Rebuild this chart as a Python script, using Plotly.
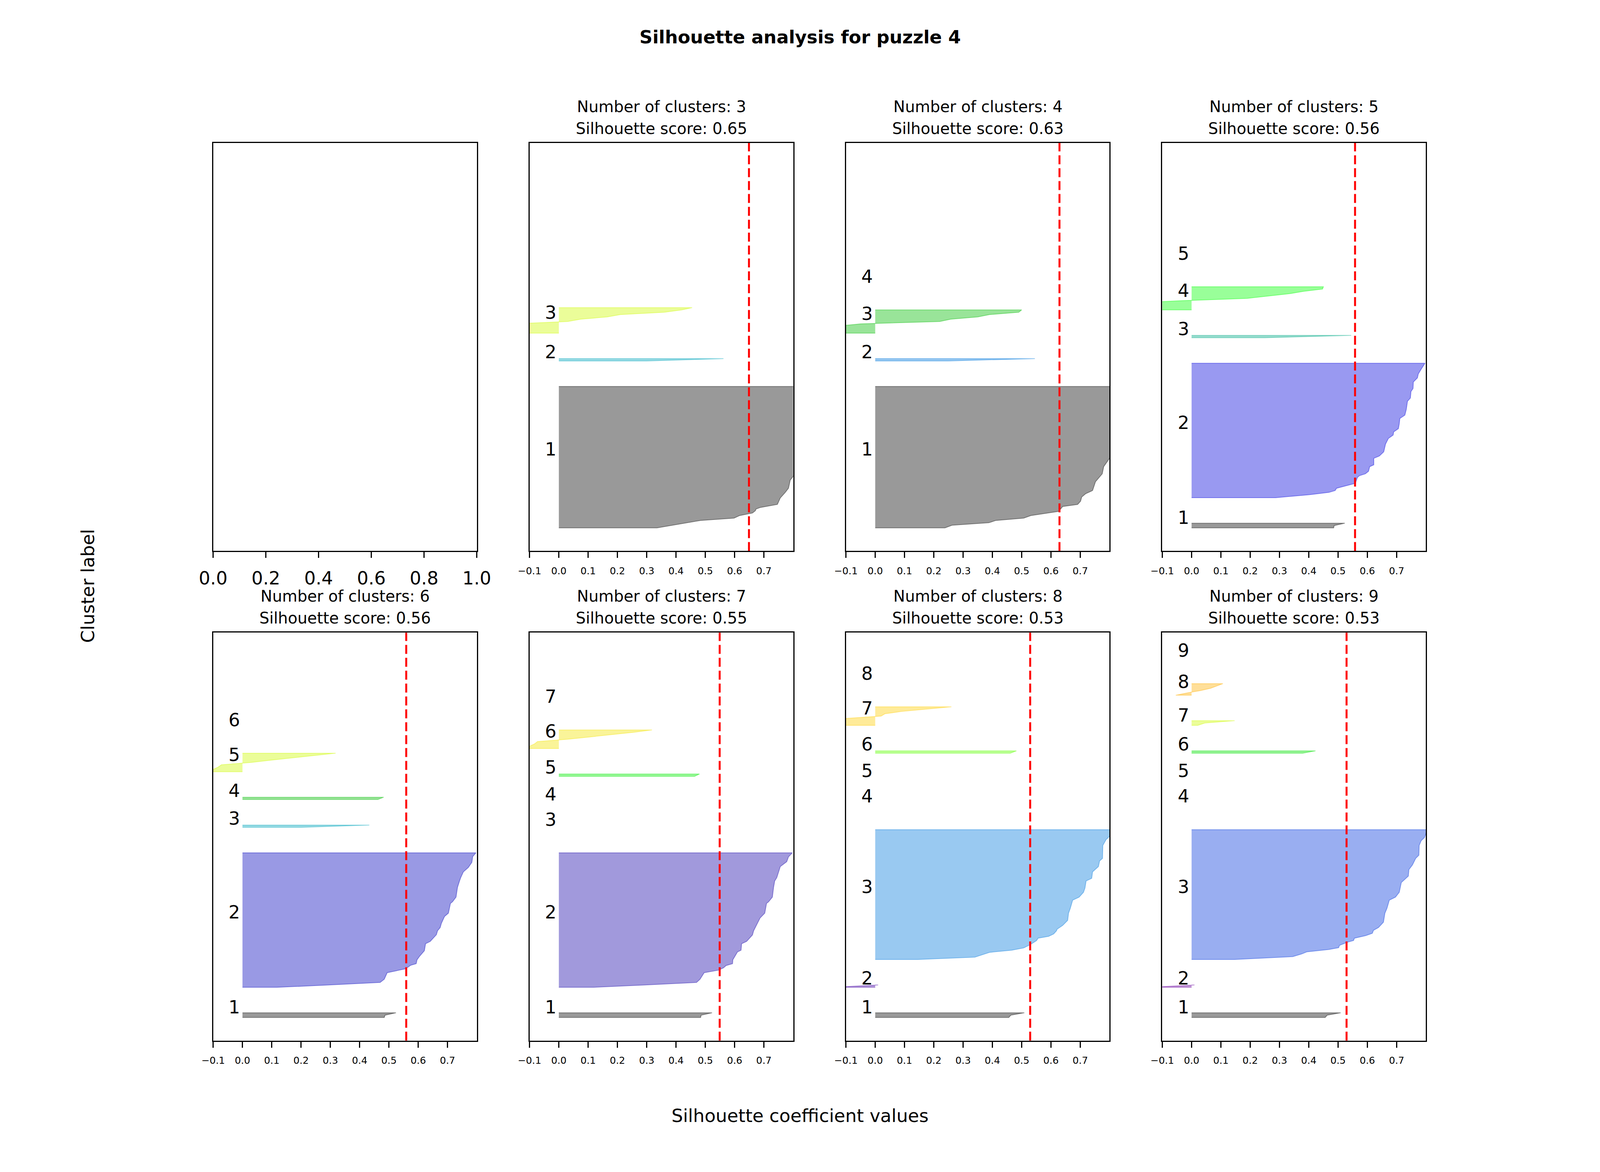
import numpy as np
import plotly.graph_objects as go

# Silhouette plots for KMeans with k = 3..9 (first panel, k = 2, left empty)
Y_MAX = 176          # 76 samples + (9 + 1) * 10
GAP = 10

K_VALUES = [3, 4, 5, 6, 7, 8, 9]
SCORES = [0.649, 0.629, 0.558, 0.559, 0.549, 0.529, 0.529]

# cluster sizes and sorted silhouette profiles as (offset inside cluster, value)
K3_SIZES = [62, 2, 12]
K3_PROFILES = [
    [(0, 0.335), (3.2, 0.484), (4.2, 0.598), (5.3, 0.617), (6.4, 0.661), (7.4, 0.671), (8.1, 0.673),
     (8.8, 0.688), (10.1, 0.746), (12.9, 0.756), (15.3, 0.773), (17.1, 0.784), (20.6, 0.79),
     (22.2, 0.80), (30, 0.83), (45, 0.87), (61, 0.9)],
    [(0, 0.30), (1, 0.562)],
    [(0, -0.5), (1, -0.4), (2, -0.3), (3, -0.25), (4, -0.15), (5, 0.03), (6, 0.075), (7, 0.165),
     (8, 0.21), (9, 0.36), (10, 0.42), (11, 0.455)],
]

K4_SIZES = [62, 2, 11, 1]
K4_PROFILES = [
    [(0, 0.238), (1.1, 0.262), (2.2, 0.388), (3.2, 0.412), (4.2, 0.507), (5.3, 0.531), (7.1, 0.626),
     (9.2, 0.640), (10.1, 0.691), (11.5, 0.701), (13.3, 0.705), (14.7, 0.718), (16.1, 0.742),
     (19.9, 0.752), (23.3, 0.775), (26.4, 0.780), (30, 0.8), (45, 0.84), (61, 0.88)],
    [(0, 0.25), (1, 0.545)],
    [(0, -0.4), (1, -0.3), (2, -0.2), (3, -0.13), (4, -0.05), (5, 0.22), (6, 0.258), (7, 0.35),
     (8, 0.39), (9, 0.49), (10, 0.50)],
    [(0, 0.0)],
]

K5_SIZES = [3, 59, 2, 11, 1]
K5_PROFILES = [
    [(0, 0.485), (1, 0.487), (2, 0.523)],
    [(0, 0.287), (1.3, 0.403), (2.3, 0.469), (3.1, 0.490), (4.1, 0.495), (6.2, 0.559), (8.7, 0.566),
     (9.5, 0.573), (10.3, 0.593), (11.4, 0.604), (13.4, 0.608), (14.2, 0.622), (17, 0.622),
     (18, 0.641), (19.8, 0.656), (23.1, 0.662), (25.6, 0.672), (27, 0.688), (28.4, 0.690),
     (29.8, 0.706), (31.9, 0.709), (34.2, 0.711), (35.6, 0.728), (38.1, 0.733), (41.6, 0.737),
     (43, 0.747), (45.8, 0.749), (47.1, 0.756), (49.9, 0.757), (51.7, 0.771), (53.4, 0.774),
     (55.5, 0.784), (58, 0.797)],
    [(0, 0.25), (1, 0.545)],
    [(0, -0.6), (1, -0.45), (2, -0.35), (3, -0.2), (4, -0.03), (5, 0.19), (6, 0.26), (7, 0.334),
     (8, 0.382), (9, 0.447), (10, 0.45)],
    [(0, 0.0)],
]

K6_SIZES = [3, 59, 2, 2, 9, 1]
K6_PROFILES = [
    [(0, 0.484), (1, 0.487), (2, 0.524)],
    [(0, 0.117), (1, 0.295), (2.1, 0.470), (3.5, 0.484), (6.3, 0.494), (8, 0.557), (9.5, 0.574),
     (10.2, 0.593), (11.9, 0.596), (13.3, 0.604), (15.8, 0.621), (18.8, 0.625), (19.8, 0.641),
     (22.7, 0.662), (24.4, 0.666), (25.8, 0.675), (27.6, 0.679), (30.6, 0.690), (32, 0.703),
     (36.2, 0.710), (36.9, 0.717), (38.9, 0.729), (43.1, 0.734), (45.9, 0.741), (47.3, 0.745),
     (49.8, 0.754), (51.7, 0.771), (53.9, 0.783), (56.4, 0.786), (58, 0.797)],
    [(0, 0.20), (1, 0.433)],
    [(0, 0.462), (1, 0.482)],
    [(0, -0.15), (1, -0.1), (2, -0.083), (3, -0.072), (4, 0.028), (5, 0.098), (6, 0.169),
     (7, 0.239), (8, 0.318)],
    [(0, 0.0)],
]

K7_SIZES = [3, 59, 1, 1, 2, 9, 1]
K7_PROFILES = [
    [(0, 0.484), (1, 0.486), (2, 0.523)],
    [(0, 0.119), (1, 0.295), (2.1, 0.470), (3.5, 0.482), (6.3, 0.496), (7.4, 0.545), (8.4, 0.562),
     (9.4, 0.571), (10.2, 0.593), (11.9, 0.594), (13.7, 0.603), (15.3, 0.610), (16, 0.622),
     (18.8, 0.624), (19.8, 0.641), (22.6, 0.661), (24.4, 0.665), (26.9, 0.675), (29.9, 0.687),
     (32, 0.703), (36.2, 0.709), (36.9, 0.716), (38.9, 0.729), (43.1, 0.733), (45.9, 0.737),
     (47.3, 0.744), (49.8, 0.750), (52.1, 0.756), (54.2, 0.778), (56.3, 0.784), (58, 0.797)],
    [(0, 0.0)],
    [(0, 0.0)],
    [(0, 0.463), (1, 0.48)],
    [(0, -0.15), (1, -0.1), (2, -0.083), (3, -0.073), (4, 0.03), (5, 0.105), (6, 0.18),
     (7, 0.255), (8, 0.318)],
    [(0, 0.0)],
]

K8_SIZES = [3, 2, 57, 1, 1, 2, 9, 1]
K8_PROFILES = [
    [(0, 0.456), (1, 0.463), (2, 0.509)],
    [(0, -0.15), (1, 0.01)],
    [(0, 0.146), (1, 0.34), (2.4, 0.376), (3.1, 0.391), (4, 0.466), (5, 0.507), (6.4, 0.529),
     (8.2, 0.551), (9.2, 0.556), (10, 0.592), (11, 0.609), (12.4, 0.619), (13.1, 0.621),
     (14.7, 0.640), (16.9, 0.657), (20, 0.660), (22.1, 0.666), (25.6, 0.674), (26.9, 0.696),
     (29, 0.711), (30.8, 0.716), (33.9, 0.720), (35, 0.739), (37.8, 0.742), (40.1, 0.762),
     (42.5, 0.766), (43.6, 0.776), (49.2, 0.777), (51.7, 0.788), (52.9, 0.798), (56, 0.82)],
    [(0, 0.0)],
    [(0, 0.0)],
    [(0, 0.461), (1, 0.482)],
    [(0, -0.3), (1, -0.2), (2, -0.15), (3, -0.1), (4, 0.02), (5, 0.033), (6, 0.09), (7, 0.173),
     (8, 0.26)],
    [(0, 0.0)],
]

K9_SIZES = [3, 2, 57, 1, 1, 2, 3, 6, 1]
K9_PROFILES = [
    [(0, 0.456), (1, 0.463), (2, 0.509)],
    [(0, -0.15), (1, 0.01)],
    [(0, 0.147), (1.25, 0.345), (2.4, 0.376), (3.3, 0.393), (4.3, 0.468), (5.1, 0.502), (6.1, 0.505),
     (7.5, 0.533), (8.2, 0.553), (9.2, 0.556), (10.3, 0.594), (11.3, 0.617), (12.6, 0.621),
     (13.8, 0.638), (16.1, 0.655), (20, 0.660), (22.1, 0.667), (25.6, 0.675), (26.9, 0.696),
     (29, 0.709), (33.2, 0.716), (36, 0.740), (38.8, 0.742), (40.8, 0.754), (43.6, 0.765),
     (45, 0.776), (49.2, 0.777), (51.3, 0.784), (52.6, 0.795), (56, 0.805)],
    [(0, 0.0)],
    [(0, 0.0)],
    [(0, 0.379), (1, 0.423)],
    [(0, 0.021), (1, 0.045), (2, 0.147)],
    [(0, -0.054), (1, -0.015), (2, 0.03), (3, 0.065), (4, 0.086), (5, 0.107)],
    [(0, 0.0)],
]

ALL_SIZES = [K3_SIZES, K4_SIZES, K5_SIZES, K6_SIZES, K7_SIZES, K8_SIZES, K9_SIZES]
ALL_PROFILES = [K3_PROFILES, K4_PROFILES, K5_PROFILES, K6_PROFILES, K7_PROFILES, K8_PROFILES, K9_PROFILES]

XTICKS = [-0.1, 0.0, 0.1, 0.2, 0.3, 0.4, 0.5, 0.6, 0.7]
XTICK_TEXT = ["\u22120.1", "0.0", "0.1", "0.2", "0.3", "0.4", "0.5", "0.6", "0.7"]
EMPTY_TICKS = [0.0, 0.2, 0.4, 0.6, 0.8, 1.0]
EMPTY_TICK_TEXT = ["0.0", "0.2", "0.4", "0.6", "0.8", "1.0"]

# matplotlib nipy_spectral colormap stops
NS_POS = np.linspace(0, 1, 21)
NS_R = [0, .4667, .5333, 0, 0, 0, 0, 0, 0, 0, 0, 0, 0, .7333, .9333, 1, 1, 1, .8667, .8, .8]
NS_G = [0, 0, 0, 0, 0, .4667, .6, .6667, .6667, .6, .7333, .8667, 1, 1, .9333, .8, .6, 0, 0, 0, .8]
NS_B = [0, .5333, .6, .6667, .8667, .8667, .8667, .6667, .5333, 0, 0, 0, 0, 0, 0, 0, 0, 0, 0, 0, .8]


def nipy_spectral(t, alpha):
    r, g, b = (int(round(255 * np.interp(t, NS_POS, ch))) for ch in (NS_R, NS_G, NS_B))
    return f"rgba({r},{g},{b},{alpha})"


# the browser page is 4096 px wide, so the 6000x3000 layout is drawn at that width
FONT = "DejaVu Sans"
W, H = 4080, 2984
FS = 0.8                      # font scale against the 6000x3000 original
SY = H / 3000
LEFT, RIGHT, BOTTOM, TOP = 0.125, 0.9, 0.11, 0.88
pw = (RIGHT - LEFT) / (4 + 3 * 0.2)
ph = (TOP - BOTTOM) / (2 + 0.2)


def base_shift(size):
    # distance from an annotation's box bottom to its text baseline
    return 0.236 * size + 1


LABEL_SIZE = 58 * FS
TITLE_SIZE = 50 * FS
TICK_SIZE = 31 * FS

fig = go.Figure()
annotations = []
layout_axes = {}

for p in range(8):
    row, col = p // 4, p % 4
    x0 = LEFT + col * pw * 1.2
    y1 = TOP - row * ph * 1.2
    xdom, ydom = [x0, x0 + pw], [y1 - ph, y1]
    n = p + 1
    xa, ya = ("xaxis" if n == 1 else f"xaxis{n}"), ("yaxis" if n == 1 else f"yaxis{n}")
    xr, yr = ("x" if n == 1 else f"x{n}"), ("y" if n == 1 else f"y{n}")

    common_x = dict(domain=xdom, anchor=yr, showgrid=False, zeroline=False, showline=True,
                    mirror=True, linecolor="black", linewidth=2.5, ticks="outside", ticklen=15,
                    tickwidth=2.5, tickcolor="black", ticklabelstandoff=12)
    common_y = dict(domain=ydom, anchor=xr, showgrid=False, zeroline=False, showline=True,
                    mirror=True, linecolor="black", linewidth=2.5, showticklabels=False, ticks="")

    if p == 0:
        layout_axes[xa] = dict(common_x, range=[0, 1], tickvals=EMPTY_TICKS, ticktext=EMPTY_TICK_TEXT,
                               tickfont=dict(family=FONT, size=LABEL_SIZE, color="black"))
        layout_axes[ya] = dict(common_y, range=[0, 1])
        # empty trace so the blank subplot is created
        fig.add_trace(go.Scatter(x=[None], y=[None], xaxis=xr, yaxis=yr, mode="lines",
                                 hoverinfo="skip", showlegend=False))
        continue

    k = K_VALUES[p - 1]
    score = SCORES[p - 1]
    sizes = ALL_SIZES[p - 1]
    profiles = ALL_PROFILES[p - 1]

    layout_axes[xa] = dict(common_x, range=[-0.1, 0.8], tickvals=XTICKS, ticktext=XTICK_TEXT,
                           tickfont=dict(family=FONT, size=TICK_SIZE, color="black"))
    layout_axes[ya] = dict(common_y, range=[0, Y_MAX])

    y_lower = GAP
    for i, (size, prof) in enumerate(zip(sizes, profiles)):
        if len(prof) > 1:
            xs = [0] + [v for _, v in prof] + [0]
            ys = [y_lower] + [y_lower + o for o, _ in prof] + [y_lower + size - 1]
            fig.add_trace(go.Scatter(
                x=xs, y=ys, xaxis=xr, yaxis=yr, mode="lines", fill="toself",
                fillcolor=nipy_spectral(i / k, 0.4),
                line=dict(color=nipy_spectral(i / k, 0.4), width=2),
                hoverinfo="skip", showlegend=False))
        annotations.append(dict(
            x=-0.05, y=y_lower + 0.5 * size, xref=xr, yref=yr, text=str(i + 1), showarrow=False,
            xanchor="left", yanchor="bottom", yshift=-base_shift(LABEL_SIZE),
            font=dict(family=FONT, size=LABEL_SIZE, color="black")))
        y_lower = y_lower + size + GAP

    fig.add_trace(go.Scatter(
        x=[score, score], y=[0, Y_MAX], xaxis=xr, yaxis=yr, mode="lines",
        line=dict(color="red", width=5, dash="23px,10px"), hoverinfo="skip", showlegend=False))

    xc = (xdom[0] + xdom[1]) / 2
    for text, base in ((f"Number of clusters: {k}", 79), (f"Silhouette score: {score:.2f}", 23)):
        annotations.append(dict(
            x=xc, y=ydom[1], xref="paper", yref="paper", text=text, showarrow=False,
            xanchor="center", yanchor="bottom", yshift=base * SY - base_shift(TITLE_SIZE),
            font=dict(family=FONT, size=TITLE_SIZE, color="black")))

annotations.append(dict(
    x=0.5, y=1 - 105 / 3000, xref="paper", yref="paper", text="<b>Silhouette analysis for puzzle 4</b>",
    showarrow=False, xanchor="center", yanchor="bottom", yshift=-base_shift(LABEL_SIZE),
    font=dict(family=FONT, size=LABEL_SIZE, color="black")))
annotations.append(dict(
    x=0.5, y=1 - 2880 / 3000, xref="paper", yref="paper", text="Silhouette coefficient values",
    showarrow=False, xanchor="center", yanchor="bottom", yshift=-base_shift(LABEL_SIZE),
    font=dict(family=FONT, size=LABEL_SIZE, color="black")))
annotations.append(dict(
    x=269 / 6000, y=0.5, xref="paper", yref="paper", text="Cluster label", textangle=-90,
    showarrow=False, xanchor="center", yanchor="middle",
    font=dict(family=FONT, size=LABEL_SIZE, color="black")))

fig.update_layout(
    width=W, height=H, margin=dict(l=0, r=0, t=0, b=0),
    paper_bgcolor="white", plot_bgcolor="white", showlegend=False,
    annotations=annotations, **layout_axes)

fig.write_html("out.html")
